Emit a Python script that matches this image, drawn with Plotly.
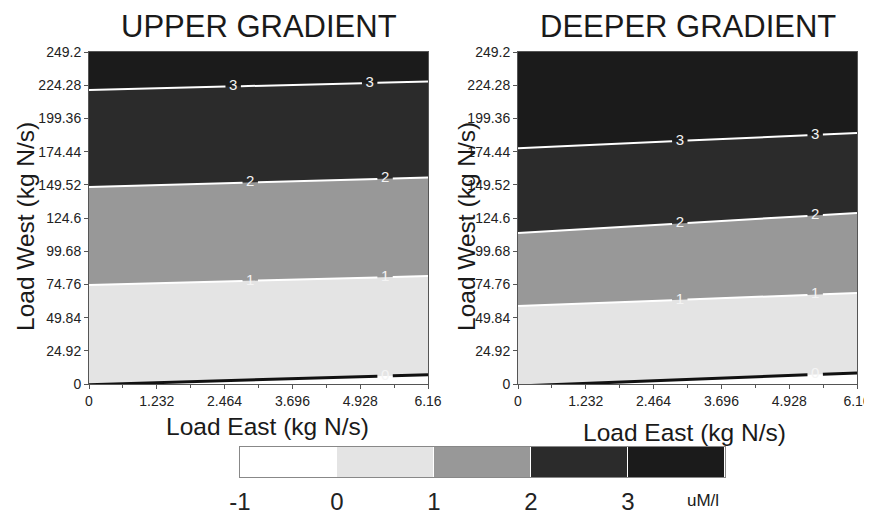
import plotly.graph_objects as go

# ---------------- data ----------------
E_EDGES = [0.0, 6.16]                     # Load East at left / right plot edges
W_MAX = 249.2
LEVELS = [0, 1, 2, 3]                     # contour levels (uM/l)

# Load West where each contour level crosses the left / right plot edge
UPPER_W_LEFT = [-0.5, 74.3, 147.9, 220.7]
UPPER_W_RIGHT = [7.0, 81.0, 155.0, 227.0]
DEEPER_W_LEFT = [-1.5, 58.5, 113.3, 177.0]
DEEPER_W_RIGHT = [8.3, 68.3, 128.4, 188.4]

# Load East where the contour labels sit, per level (0,1,2,3)
UPPER_LABEL_E = [[5.38], [2.93, 5.38], [2.93, 5.38], [2.62, 5.10]]
DEEPER_LABEL_E = [[5.40], [2.94, 5.40], [2.94, 5.40], [2.94, 5.40]]
LABEL_TEXT = ["0", "1", "2", "3"]

X_TICKS = [0, 1.232, 2.464, 3.696, 4.928, 6.16]
X_TICK_TEXT = ["0", "1.232", "2.464", "3.696", "4.928", "6.16"]
Y_TICKS = [0, 24.92, 49.84, 74.76, 99.68, 124.6, 149.52, 174.44, 199.36, 224.28, 249.2]
Y_TICK_TEXT = ["0", "24.92", "49.84", "74.76", "99.68", "124.6", "149.52",
               "174.44", "199.36", "224.28", "249.2"]

CBAR_EDGES = [-1, 0, 1, 2, 3, 4]
CBAR_TICKS = [-1, 0, 1, 2, 3]
CBAR_TEXT = ["-1", "0", "1", "2", "3"]

BAND_COLORS = ["#ffffff", "#e4e4e4", "#989898", "#2b2b2b", "#1b1b1b"]
LINE_COLORS = ["#111111", "#ffffff", "#ffffff", "#ffffff"]
LINE_WIDTHS = [3, 2, 2, 2]

FONT = "Arial, Liberation Sans, sans-serif"
LABEL_GAP = 0.14   # half gap (in Load East units) around a contour label

W_PX, H_PX = 872, 516
OFF = 8            # the page places the figure 8px in from the top-left corner


def px(x):
    return (x - OFF) / W_PX


def py(y):
    return 1 - (y - OFF) / H_PX


def column_values(ws, w):
    """piecewise-linear level value at Load West w for one column of crossings"""
    if w <= ws[0]:
        return LEVELS[0] + (w - ws[0]) / (ws[1] - ws[0])
    for i in range(len(ws) - 1):
        if ws[i] <= w <= ws[i + 1]:
            return LEVELS[i] + (w - ws[i]) / (ws[i + 1] - ws[i])
    return LEVELS[-1] + (w - ws[-1]) / (ws[-1] - ws[-2])


def build_grid(w_left, w_right):
    rows = sorted(set([0.0, W_MAX] + [w for w in w_left + w_right if 0 <= w <= W_MAX]))
    z = [[column_values(w_left, w), column_values(w_right, w)] for w in rows]
    return rows, z


def stepped_scale(colors):
    n = len(colors)
    scale = []
    for i, c in enumerate(colors):
        scale.append([i / n, c])
        scale.append([(i + 1) / n, c])
    return scale


def w_on_line(wl, wr, e):
    return wl + (wr - wl) * (e - E_EDGES[0]) / (E_EDGES[1] - E_EDGES[0])


CSCALE = stepped_scale(BAND_COLORS)

fig = go.Figure()

for (wls, wrs, label_es, xa, ya) in [
        (UPPER_W_LEFT, UPPER_W_RIGHT, UPPER_LABEL_E, "x", "y"),
        (DEEPER_W_LEFT, DEEPER_W_RIGHT, DEEPER_LABEL_E, "x2", "y2")]:
    rows, z = build_grid(wls, wrs)
    # filled bands
    fig.add_trace(go.Contour(
        x=E_EDGES, y=rows, z=z, xaxis=xa, yaxis=ya,
        colorscale=CSCALE, zmin=-1, zmax=4, showscale=False,
        contours=dict(start=0, end=3, size=1, coloring="fill", showlines=False),
        line=dict(width=0), hoverinfo="skip"))
    # contour lines with gaps at the labels
    for k, lev in enumerate(LEVELS):
        wl, wr = wls[k], wrs[k]
        xs, ys = [], []
        cuts = [E_EDGES[0]]
        for e in label_es[k]:
            cuts += [e - LABEL_GAP, e + LABEL_GAP]
        cuts.append(E_EDGES[1])
        for a, b in zip(cuts[0::2], cuts[1::2]):
            xs += [a, b, None]
            ys += [w_on_line(wl, wr, a), w_on_line(wl, wr, b), None]
        fig.add_trace(go.Scatter(
            x=xs, y=ys, xaxis=xa, yaxis=ya, mode="lines",
            line=dict(color=LINE_COLORS[k], width=LINE_WIDTHS[k]),
            hoverinfo="skip", cliponaxis=True))
        fig.add_trace(go.Scatter(
            x=label_es[k], y=[w_on_line(wl, wr, e) for e in label_es[k]],
            xaxis=xa, yaxis=ya, mode="text", text=[LABEL_TEXT[k]] * len(label_es[k]),
            textposition="middle center",
            textfont=dict(color="#f4f4f4", size=15, family=FONT),
            hoverinfo="skip"))

# colour bar drawn as a one-row heatmap
fig.add_trace(go.Heatmap(
    x=CBAR_EDGES, y=[0, 1], z=[[e + 0.5 for e in CBAR_EDGES[:-1]]],
    colorscale=CSCALE, zmin=-1, zmax=4, showscale=False,
    xaxis="x3", yaxis="y3", hoverinfo="skip", xgap=1))

axis_common = dict(showline=True, linecolor="#555555", linewidth=1, mirror=True,
                   ticks="outside", ticklen=4, tickcolor="#555555",
                   tickfont=dict(size=14, color="#222222", family=FONT),
                   showgrid=False, zeroline=False, automargin=False)

x_dom1 = [px(89), px(428)]
x_dom2 = [px(518), px(857)]
y_dom = [py(384), py(52)]

xcommon = dict(axis_common, range=[0, 6.16], tickvals=X_TICKS, ticktext=X_TICK_TEXT,
               minor=dict(dtick=0.616, tick0=0, ticks="outside", ticklen=3, tickcolor="#555555"))
ycommon = dict(axis_common, range=[0, W_MAX], tickvals=Y_TICKS, ticktext=Y_TICK_TEXT)

fig.update_layout(
    width=W_PX, height=H_PX,
    margin=dict(l=0, r=0, t=0, b=0, pad=0, autoexpand=False),
    paper_bgcolor="white", plot_bgcolor="white",
    font=dict(family=FONT, color="#222222"),
    showlegend=False,
    xaxis=dict(xcommon, domain=x_dom1, anchor="y"),
    yaxis=dict(ycommon, domain=y_dom, anchor="x"),
    xaxis2=dict(xcommon, domain=x_dom2, anchor="y2"),
    yaxis2=dict(ycommon, domain=y_dom, anchor="x2"),
    xaxis3=dict(domain=[px(240), px(725)], anchor="y3", range=[-1, 4],
                tickvals=CBAR_TICKS, ticktext=CBAR_TEXT, ticks="outside", ticklen=3,
                tickcolor="rgba(0,0,0,0)", showline=True, linecolor="#888888",
                mirror=True, showgrid=False, zeroline=False, automargin=False,
                tickfont=dict(size=24, color="#222222", family=FONT)),
    yaxis3=dict(domain=[py(477), py(447)], anchor="x3", range=[0, 1],
                showticklabels=False, ticks="", showline=True, linecolor="#888888",
                mirror=True, showgrid=False, zeroline=False, automargin=False),
)

ann = []
for cx, title in [(258.5, "UPPER GRADIENT"), (687.5, "DEEPER GRADIENT")]:
    ann.append(dict(x=px(cx), y=1.0, xref="paper", yref="paper", text=title,
                    showarrow=False, font=dict(size=31, color="#1a1a1a", family=FONT),
                    xanchor="center", yanchor="top", borderpad=0))
for cx, cy in [(267, 426), (684, 432)]:
    ann.append(dict(x=px(cx), y=py(cy), xref="paper", yref="paper", text="Load East (kg N/s)",
                    showarrow=False, font=dict(size=24.5, color="#1a1a1a", family=FONT),
                    xanchor="center", yanchor="middle"))
for cx in [25, 466]:
    ann.append(dict(x=px(cx), y=py(227), xref="paper", yref="paper",
                    text="Load West (kg N/s)", textangle=-90, showarrow=False,
                    font=dict(size=24.5, color="#1a1a1a", family=FONT),
                    xanchor="center", yanchor="middle"))
ann.append(dict(x=px(703), y=py(500), xref="paper", yref="paper", text="uM/l",
                showarrow=False, font=dict(size=17, color="#1a1a1a", family=FONT),
                xanchor="center", yanchor="middle"))
fig.update_layout(annotations=ann)

fig.write_html("out.html")
